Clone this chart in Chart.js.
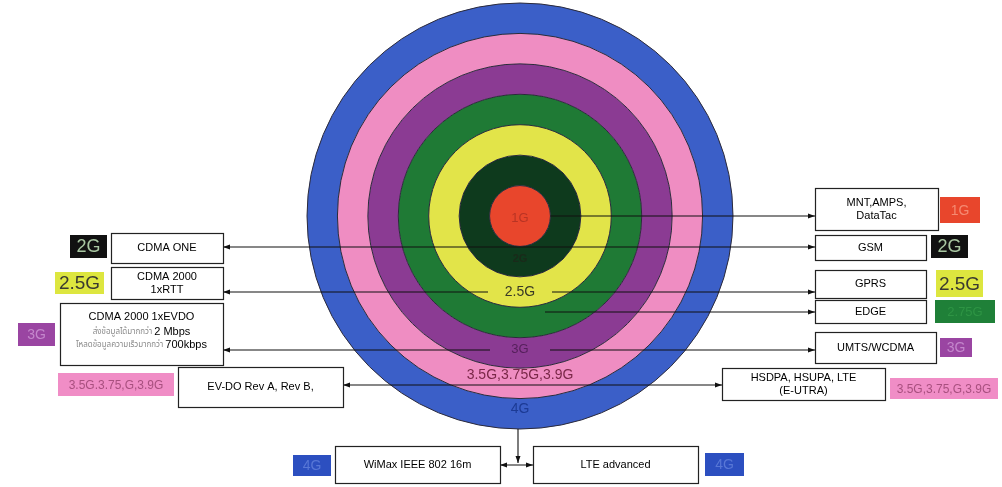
<!DOCTYPE html>
<html>
<head>
<meta charset="utf-8">
<script src="https://cdn.jsdelivr.net/npm/chart.js"></script>
<style>
html, body { margin: 0; padding: 0; background: #fff; }
#wrap { width: 1002px; height: 487px; }
</style>
</head>
<body>
<div id="wrap"><canvas id="rings" width="1002" height="487"></canvas></div>
<script>
// rings, outermost first
var ringNames = ['4G', '3.5G', '3G', '2.75G', '2.5G', '2G', '1G'];
var ringShare = [1, 1, 1, 1, 1, 1, 1];
var ringCaptions = ['4G', '3.5G,3.75G,3.9G', '3G', '', '2.5G', '2G', '1G'];
var leftTechs = ['CDMA ONE', 'CDMA 2000|1xRTT', 'CDMA 2000 1xEVDO', 'EV-DO Rev A, Rev B,'];
var rightTechs = ['MNT,AMPS,|DataTac', 'GSM', 'GPRS', 'EDGE', 'UMTS/WCDMA', 'HSDPA, HSUPA, LTE|(E-UTRA)'];
var bottomTechs = ['WiMax IEEE 802 16m', 'LTE advanced'];
var evdoNotes = [['ส่งข้อมูลได้มากกว่า', '2 Mbps'], ['โหลดข้อมูลความเร็วมากกว่า', '700kbps']];
var leftTags = ['2G', '2.5G', '3G', '3.5G.3.75,G,3.9G'];
var rightTags = ['1G', '2G', '2.5G', '2.75G', '3G', '3.5G,3.75,G,3.9G'];
var bottomTags = ['4G', '4G'];

var ringColors = ['#3b5fc8', '#ef8dc2', '#8b3b93', '#1f7a35', '#e2e449', '#0e3a1d', '#e8462c'];
var captionColors = ['#1c3a94', '#7a2848', '#56205c', '#1f7a35', '#3a3a26', '#1a2a1a', '#b83424'];
var captionFonts = [14, 14, 13, 13, 14, 11, 13];
var captionShift = [-5, -8, -4, 0, 0, -3, 2];

// tag styles keyed by generation
var tagStyle = {
  '1G': { bg: '#e8462c', fg: '#f58a72', size: 14 },
  '2G': { bg: '#111111', fg: '#a9c7a2', size: 18 },
  '2.5G': { bg: '#dde63f', fg: '#3a3a30', size: 19 },
  '2.75G': { bg: '#1f8038', fg: '#2e9444', size: 13 },
  '3G': { bg: '#9a45a2', fg: '#c487cc', size: 14 },
  '3.5G': { bg: '#f08dc6', fg: '#a8507f', size: 12 },
  '4G': { bg: '#2c4fc0', fg: '#5877d6', size: 14 }
};

// layout of the boxes [x, y, w, h]
var leftBoxPos = [[111, 233, 112, 30], [111, 267, 112, 32], [60, 303, 163, 62], [178, 367, 165, 40]];
var rightBoxPos = [[815, 188, 123, 42], [815, 235, 111, 25], [815, 270, 111, 28], [815, 300, 111, 23], [815, 332, 121, 31], [722, 368, 163, 32]];
var bottomBoxPos = [[335, 446, 165, 37], [533, 446, 165, 37]];
var leftTagPos = [[70, 235, 37, 23], [55, 272, 49, 22], [18, 323, 37, 23], [58, 373, 116, 23]];
var rightTagPos = [[940, 197, 40, 26], [931, 235, 37, 23], [936, 270, 47, 27], [935, 300, 60, 23], [940, 338, 32, 19], [890, 378, 108, 21]];
var bottomTagPos = [[293, 455, 38, 21], [705, 453, 39, 23]];

var FONT = "'Liberation Sans', Arial, sans-serif";
var THAI = "'Noto Sans Thai', 'Noto Sans', 'DejaVu Sans', sans-serif";

function arrowHead(ctx, x, y, dir) {
	var dx = dir === 'l' ? 1 : dir === 'r' ? -1 : 0;
	var dy = dir === 'd' ? -1 : 0;
	ctx.beginPath();
	ctx.moveTo(x, y);
	ctx.lineTo(x + dx * 7 - dy * 2.5, y + dy * 7 + dx * 2.5);
	ctx.lineTo(x + dx * 7 + dy * 2.5, y + dy * 7 - dx * 2.5);
	ctx.closePath();
	ctx.fill();
}

function hline(ctx, y, x1, x2, gapC, gapW) {
	ctx.beginPath();
	if (gapC != null) {
		ctx.moveTo(x1, y); ctx.lineTo(gapC - gapW, y);
		ctx.moveTo(gapC + gapW, y); ctx.lineTo(x2, y);
	} else {
		ctx.moveTo(x1, y); ctx.lineTo(x2, y);
	}
	ctx.stroke();
}

function techBox(ctx, pos, text) {
	ctx.fillStyle = '#fff';
	ctx.fillRect(pos[0], pos[1], pos[2], pos[3]);
	ctx.strokeStyle = '#222';
	ctx.lineWidth = 1.2;
	ctx.strokeRect(pos[0] + 0.5, pos[1] + 0.5, pos[2], pos[3]);
	var lines = text.split('|');
	ctx.fillStyle = '#000';
	ctx.font = '11px ' + FONT;
	ctx.textAlign = 'center';
	ctx.textBaseline = 'middle';
	var cy = pos[1] + pos[3] / 2 - (lines.length - 1) * 6.5;
	lines.forEach(function(t, i){
		ctx.fillText(t, pos[0] + pos[2] / 2, cy + i * 13);
	});
}

function tag(ctx, pos, text, gen) {
	var st = tagStyle[gen];
	ctx.fillStyle = st.bg;
	ctx.fillRect(pos[0], pos[1], pos[2], pos[3]);
	ctx.fillStyle = st.fg;
	ctx.font = st.size + 'px ' + FONT;
	ctx.textAlign = 'center';
	ctx.textBaseline = 'middle';
	ctx.fillText(text, pos[0] + pos[2] / 2, pos[1] + pos[3] / 2 + 1);
}

var ringOutline = {
	id: 'ringOutline',
	afterDatasetsDraw: function(chart) {
		var ctx = chart.ctx;
		ctx.save();
		ctx.strokeStyle = '#2b2a3a';
		ctx.lineWidth = 1;
		ringNames.forEach(function(n, i){
			var arc = chart.getDatasetMeta(i).data[0];
			ctx.beginPath();
			ctx.arc(arc.x, arc.y, arc.outerRadius, 0, Math.PI * 2);
			ctx.stroke();
		});
		ctx.restore();
	}
};

var diagram = {
	id: 'diagram',
	afterDraw: function(chart) {
		var ctx = chart.ctx;
		var core = chart.getDatasetMeta(ringNames.length - 1).data[0];
		var outer = chart.getDatasetMeta(0).data[0];
		var cx = core.x, cy = core.y;
		var L = function(i){ return leftBoxPos[i][0] + leftBoxPos[i][2]; };
		var R = function(i){ return rightBoxPos[i][0]; };
		ctx.save();
		ctx.strokeStyle = '#111';
		ctx.fillStyle = '#111';
		ctx.lineWidth = 1.1;

		// connectors: 1G
		var y = cy;
		hline(ctx, y, cx + core.outerRadius, R(0));
		arrowHead(ctx, R(0), y, 'r');
		// 2G
		y = cy + 31;
		hline(ctx, y, L(0), R(1));
		arrowHead(ctx, L(0), y, 'l'); arrowHead(ctx, R(1), y, 'r');
		// 2.5G
		y = cy + 76;
		hline(ctx, y, L(1), R(2), cx, 32);
		arrowHead(ctx, L(1), y, 'l'); arrowHead(ctx, R(2), y, 'r');
		// 2.75G
		y = cy + 96;
		hline(ctx, y, cx + 25, R(3));
		arrowHead(ctx, R(3), y, 'r');
		// 3G
		y = cy + 134;
		hline(ctx, y, L(2), R(4), cx, 30);
		arrowHead(ctx, L(2), y, 'l'); arrowHead(ctx, R(4), y, 'r');
		// 3.5G
		y = cy + 169;
		hline(ctx, y, L(3), R(5));
		arrowHead(ctx, L(3), y, 'l'); arrowHead(ctx, R(5), y, 'r');
		// 4G
		var bx = cx - 2;
		var by = bottomBoxPos[0][1] + 19;
		ctx.beginPath();
		ctx.moveTo(bx, cy + outer.outerRadius); ctx.lineTo(bx, by - 2);
		ctx.stroke();
		arrowHead(ctx, bx, by - 2, 'd');
		var b0 = bottomBoxPos[0][0] + bottomBoxPos[0][2], b1 = bottomBoxPos[1][0];
		hline(ctx, by, b0, b1);
		arrowHead(ctx, b0, by, 'l'); arrowHead(ctx, b1, by, 'r');

		// ring captions at the middle of each ring, below the centre
		ringCaptions.forEach(function(cap, i){
			if (!cap) return;
			var arc = chart.getDatasetMeta(i).data[0];
			var mid = i === ringNames.length - 1 ? 0 : (arc.outerRadius + arc.innerRadius) / 2;
			ctx.fillStyle = captionColors[i];
			ctx.font = (i === 5 ? 'bold ' : '') + captionFonts[i] + 'px ' + FONT;
			ctx.textAlign = 'center';
			ctx.textBaseline = 'middle';
			ctx.fillText(cap, cx, cy + mid + captionShift[i]);
		});

		// boxes
		leftTechs.forEach(function(t, i){
			if (i === 2) {
				techBox(ctx, leftBoxPos[i], '');
				var p = leftBoxPos[i], mx = p[0] + p[2] / 2;
				ctx.fillStyle = '#000';
				ctx.font = '11px ' + FONT;
				ctx.textAlign = 'center';
				ctx.fillText(t, mx, p[1] + 14);
				evdoNotes.forEach(function(n, k){
					var yy = p[1] + 29 + k * 13;
					ctx.font = '8px ' + THAI;
					var w1 = ctx.measureText(n[0] + ' ').width;
					ctx.font = '11px ' + FONT;
					var w2 = ctx.measureText(n[1]).width;
					var sx = mx - (w1 + w2) / 2;
					ctx.textAlign = 'left';
					ctx.fillStyle = '#8a8a8a';
					ctx.font = '8px ' + THAI;
					ctx.fillText(n[0] + ' ', sx, yy);
					ctx.fillStyle = '#000';
					ctx.font = '11px ' + FONT;
					ctx.fillText(n[1], sx + w1, yy);
				});
			} else {
				techBox(ctx, leftBoxPos[i], t);
			}
		});
		rightTechs.forEach(function(t, i){ techBox(ctx, rightBoxPos[i], t); });
		bottomTechs.forEach(function(t, i){ techBox(ctx, bottomBoxPos[i], t); });

		// generation tags
		var leftGen = ['2G', '2.5G', '3G', '3.5G'];
		var rightGen = ['1G', '2G', '2.5G', '2.75G', '3G', '3.5G'];
		leftTags.forEach(function(t, i){ tag(ctx, leftTagPos[i], t, leftGen[i]); });
		rightTags.forEach(function(t, i){ tag(ctx, rightTagPos[i], t, rightGen[i]); });
		bottomTags.forEach(function(t, i){ tag(ctx, bottomTagPos[i], t, '4G'); });
		ctx.restore();
	}
};

var chart = new Chart(document.getElementById('rings'), {
	type: 'doughnut',
	data: {
		labels: ['share'],
		datasets: ringNames.map(function(name, i){
			return {
				label: name,
				data: [ringShare[i]],
				backgroundColor: ringColors[i],
				borderWidth: 0,
				hoverOffset: 0
			};
		})
	},
	options: {
		responsive: false,
		animation: false,
		events: [],
		cutout: 0,
		radius: 213,
		layout: { padding: { left: 38, right: 0, top: 0, bottom: 55 } },
		plugins: {
			legend: { display: false },
			tooltip: { enabled: false }
		}
	},
	plugins: [ringOutline, diagram]
});
</script>
</body>
</html>
